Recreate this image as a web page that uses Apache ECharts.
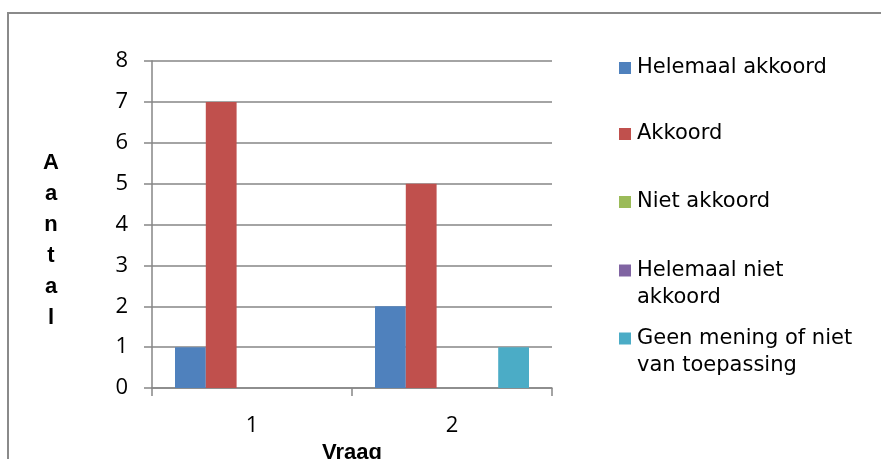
<!DOCTYPE html>
<html>
<head>
<meta charset="utf-8">
<script src="https://cdn.jsdelivr.net/npm/echarts@6/dist/echarts.min.js"></script>
<style>html,body{margin:0;padding:0;background:#fff}#c{width:881px;height:459px}</style>
</head>
<body>
<div id="c"></div>
<script>
var categories = ['1', '2'];
var seriesNames = ['Helemaal akkoord', 'Akkoord', 'Niet akkoord', 'Helemaal niet akkoord', 'Geen mening of niet van toepassing'];
var helemaalAkkoord = [1, 2];
var akkoord = [7, 5];
var nietAkkoord = [0, 0];
var helemaalNietAkkoord = [0, 0];
var geenMening = [0, 1];
var yTicks = [0, 1, 2, 3, 4, 5, 6, 7, 8];
var legendLabels = ['Helemaal akkoord', 'Akkoord', 'Niet akkoord', '\nHelemaal niet\nakkoord', '\nGeen mening of niet\nvan toepassing'];

var values = [helemaalAkkoord, akkoord, nietAkkoord, helemaalNietAkkoord, geenMening];
var colors = ['#4F81BD', '#C0504D', '#9BBB59', '#8064A2', '#4BACC6'];
var gray = '#868686';

var legendTops = [56, 122, 190, 230, 298];
var legends = seriesNames.map(function (n, i) {
  var multi = legendLabels[i].indexOf('\n') >= 0;
  return {
    show: true,
    data: [n],
    left: 619,
    top: legendTops[i],
    padding: 0,
    itemWidth: 12,
    itemHeight: 12,
    itemGap: 0,
    icon: 'rect',
    selectedMode: false,
    formatter: function () { return legendLabels[i]; },
    textStyle: { fontFamily: 'DejaVu Sans', fontSize: 21, color: '#000', lineHeight: multi ? 27 : 24, padding: [0, 0, 0, 1] }
  };
});

var chart = echarts.init(document.getElementById('c'), null, { renderer: 'canvas' });
chart.setOption({
  animation: false,
  backgroundColor: '#fff',
  color: colors,
  legend: legends,
  grid: { left: 152, right: 329, top: 61, bottom: 71, containLabel: false, outerBoundsMode: 'none' },
  xAxis: {
    type: 'category',
    data: categories,
    boundaryGap: true,
    name: 'Vraag',
    nameLocation: 'middle',
    nameGap: 54,
    nameTextStyle: { fontFamily: 'Liberation Sans', fontWeight: 'bold', fontSize: 22, color: '#000' },
    axisLine: { show: true, lineStyle: { color: gray, width: 1.5 } },
    axisTick: { show: true, length: 8, alignWithLabel: false, interval: 0, lineStyle: { color: gray, width: 1.5 } },
    axisLabel: { margin: 27, fontFamily: 'Open Sans', fontSize: 22, color: '#000' },
    splitLine: { show: false }
  },
  yAxis: {
    type: 'value',
    min: 0,
    max: 8,
    interval: 1,
    axisLine: { show: true, lineStyle: { color: gray, width: 1.5 } },
    axisTick: { show: true, length: 8, lineStyle: { color: gray, width: 1.5 } },
    axisLabel: { margin: 24, fontFamily: 'Open Sans', fontSize: 22, color: '#000',
      formatter: function (v) { return yTicks.indexOf(v) >= 0 ? String(v) : ''; } },
    splitLine: { show: true, lineStyle: { color: gray, width: 1.5 } }
  },
  series: seriesNames.map(function (n, i) {
    return {
      name: n,
      type: 'bar',
      data: values[i],
      barGap: '0%',
      barCategoryGap: '23%',
      itemStyle: { color: colors[i] }
    };
  }),
  graphic: [
    {
      type: 'rect',
      silent: true,
      shape: { x: 8, y: 13, width: 1000, height: 1000 },
      style: { fill: 'none', stroke: '#8a8a8a', lineWidth: 2 }
    },
    {
      type: 'text',
      silent: true,
      x: 51,
      y: 240,
      style: {
        text: 'A\na\nn\nt\na\nl',
        fontFamily: 'Liberation Sans',
        fontWeight: 'bold',
        fontSize: 22,
        lineHeight: 31,
        fill: '#000',
        align: 'center',
        verticalAlign: 'middle'
      }
    }
  ]
});
</script>
</body>
</html>
